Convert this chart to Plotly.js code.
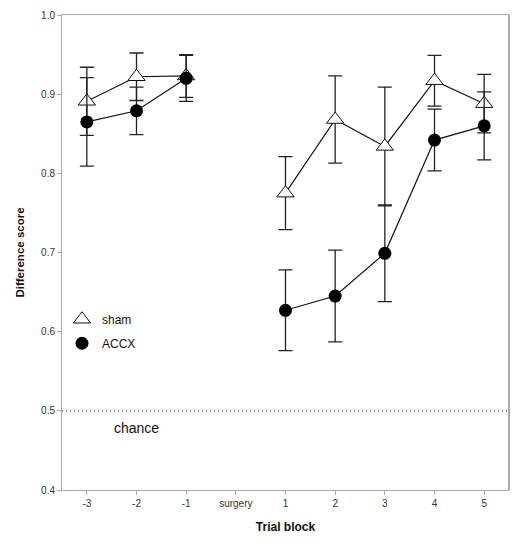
<!DOCTYPE html>
<html>
<head>
<meta charset="utf-8">
<script src="https://cdn.plot.ly/plotly-3.0.1.min.js"></script>
<style>html,body{margin:0;padding:0;background:#fff;}#chart{width:525px;height:546px;}</style>
</head>
<body>
<div id="chart"></div>
<script>
var categories = ['-3', '-2', '-1', 'surgery', '1', '2', '3', '4', '5'];
var shamValues = [0.891, 0.922, 0.923, null, 0.775, 0.868, 0.834, 0.917, 0.888];
var shamErrors = [0.043, 0.030, 0.027, null, 0.046, 0.055, 0.075, 0.032, 0.037];
var accxValues = [0.865, 0.879, 0.920, null, 0.627, 0.645, 0.699, 0.842, 0.860];
var accxErrors = [0.056, 0.030, 0.029, null, 0.051, 0.058, 0.061, 0.039, 0.043];
var chanceLevel = 0.5;
var chanceLabel = 'chance';
var chanceLabelCategory = '-2';
var chanceLabelValue = 0.478;
var yTicks = [0.4, 0.5, 0.6, 0.7, 0.8, 0.9, 1.0];

var font = 'Liberation Sans, Arial, sans-serif';
var shamMarker = {symbol: 'triangle-up', size: 15, color: '#fff', line: {color: '#111', width: 1}};
var accxMarker = {symbol: 'circle', size: 13, color: '#000'};

var sham = {
  x: categories, y: shamValues, name: 'sham', showlegend: false,
  type: 'scatter', mode: 'lines+markers', connectgaps: false,
  line: {color: '#111', width: 1.2},
  marker: shamMarker,
  error_y: {type: 'data', array: shamErrors, visible: true, color: '#222', thickness: 1.3, width: 7}
};
var accx = {
  x: categories, y: accxValues, name: 'ACCX', showlegend: false,
  type: 'scatter', mode: 'lines+markers', connectgaps: false,
  line: {color: '#111', width: 1.2},
  marker: accxMarker,
  error_y: {type: 'data', array: accxErrors, visible: true, color: '#222', thickness: 1.3, width: 7}
};
var shamKey = {x: [null], y: [null], name: 'sham', legendgroup: 'a', type: 'scatter', mode: 'markers', marker: shamMarker};
var accxKey = {x: [null], y: [null], name: 'ACCX', legendgroup: 'b', type: 'scatter', mode: 'markers', marker: accxMarker};

var layout = {
  width: 525, height: 546,
  margin: {l: 62, r: 16, t: 15, b: 56},
  paper_bgcolor: '#fff', plot_bgcolor: '#fff',
  font: {family: font, color: '#222', size: 10},
  showlegend: true,
  legend: {x: 0.0, y: 0.39, xanchor: 'left', yanchor: 'top', bgcolor: 'rgba(0,0,0,0)',
           font: {size: 12, family: font, color: '#111'}, traceorder: 'grouped', tracegroupgap: 5},
  xaxis: {
    type: 'category', categoryorder: 'array', categoryarray: categories,
    range: [-0.5, 8.5], showgrid: false, zeroline: false,
    showline: true, linecolor: '#aaa', linewidth: 1, mirror: true,
    ticks: 'outside', ticklen: 4, tickcolor: '#aaa',
    tickfont: {size: 10, family: font, color: '#333'},
    title: {text: '<b>Trial block</b>', font: {size: 12, family: font, color: '#111'}, standoff: 14}
  },
  yaxis: {
    range: [0.4, 1.0], tickvals: yTicks, tickformat: '.1f',
    showgrid: false, zeroline: false,
    showline: true, linecolor: '#aaa', linewidth: 1,
    ticks: 'outside', ticklen: 4, tickcolor: '#aaa',
    tickfont: {size: 10, family: font, color: '#333'},
    title: {text: '<b>Difference score</b>', font: {size: 11.5, family: font, color: '#111'}, standoff: 14}
  },
  shapes: [
    {type: 'line', xref: 'paper', yref: 'y', x0: 0, x1: 1, y0: chanceLevel, y1: chanceLevel,
     line: {color: '#111', width: 1, dash: '1px,3px'}},
    {type: 'line', xref: 'paper', yref: 'paper', x0: 1, x1: 1, y0: 0, y1: 1,
     line: {color: '#aaa', width: 2}}
  ],
  annotations: [
    {x: categories.indexOf(chanceLabelCategory), y: chanceLabelValue, xref: 'x', yref: 'y',
     text: chanceLabel, showarrow: false,
     font: {size: 14, family: font, color: '#111'}}
  ]
};

Plotly.newPlot('chart', [sham, accx, shamKey, accxKey], layout, {displayModeBar: false, staticPlot: true});
</script>
</body>
</html>
